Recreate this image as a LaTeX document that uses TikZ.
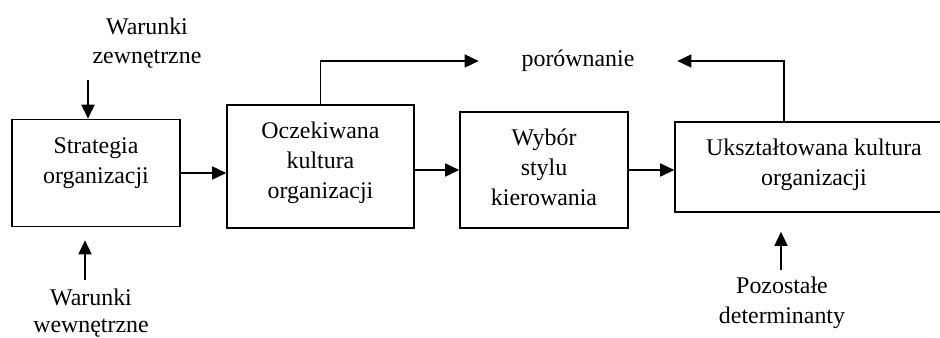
\documentclass[tikz,border=0pt]{standalone}
\usepackage{fontspec}
\setmainfont{Liberation Serif}
\usepackage{tikz}
\usetikzlibrary{arrows.meta, positioning, calc}

\begin{document}
\begin{tikzpicture}[
    x=0.02cm, y=-0.02cm,
    every node/.style={font=\fontsize{13.6}{17}\selectfont, align=center},
    block/.style={rectangle, draw, line width=0.9pt, inner sep=2pt},
    label/.style={inner sep=2pt},
    arrow/.style={-{Triangle[length=2.8mm, width=2.6mm]}, line width=0.9pt}
]
\useasboundingbox (0,0) rectangle (940,338);
% main chain
\node[block, minimum width=3.36cm, minimum height=2.14cm, text depth=14.4pt] (strat) at (96,173) {Strategia\\organizacji};
\node[block, minimum width=3.74cm, minimum height=2.46cm, text depth=7pt] (ocz) at (320.5,166.5) {Oczekiwana\\kultura\\organizacji};
\node[block, minimum width=3.36cm, minimum height=2.32cm, text depth=3.5pt] (wyb) at (544,170) {Wybór\\stylu\\kierowania};
\node[block, minimum width=5.56cm, minimum height=1.80cm, text depth=5.8pt] (uks) at (814,167) {Ukształtowana kultura\\organizacji};
% labels
\node[label, minimum width=3.96cm] (por) at (578,61) {porównanie};
\node[label] (zew) at (147,43) {Warunki\\zewnętrzne};
\node[label, font=\fontsize{13.6}{15}\selectfont] (wew) at (91,313) {Warunki\\wewnętrzne};
\node[label] (poz) at (782,303) {Pozostałe\\determinanty};
\coordinate (zew_in) at (88,80);
\coordinate (wew_out) at (85,280);
\coordinate (poz_out) at (781,270);
% connectors
\draw[arrow] (strat.east) -- (strat.east -| ocz.west);
\draw[arrow] (wyb.west -| ocz.east) -- (wyb.west);
\draw[arrow] (wyb.east) -- (wyb.east -| uks.west);
\draw[arrow] (ocz.north) |- (por.west);
\draw[arrow] ([xshift=-0.6cm]uks.north) |- (por.east);
\draw[arrow] (zew_in) -- (zew_in |- strat.north);
\draw[arrow] (wew_out) -- ([yshift=-0.26cm]wew_out |- strat.south);
\draw[arrow] (poz_out) -- ([yshift=-0.38cm]poz_out |- uks.south);
\end{tikzpicture}
\end{document}
